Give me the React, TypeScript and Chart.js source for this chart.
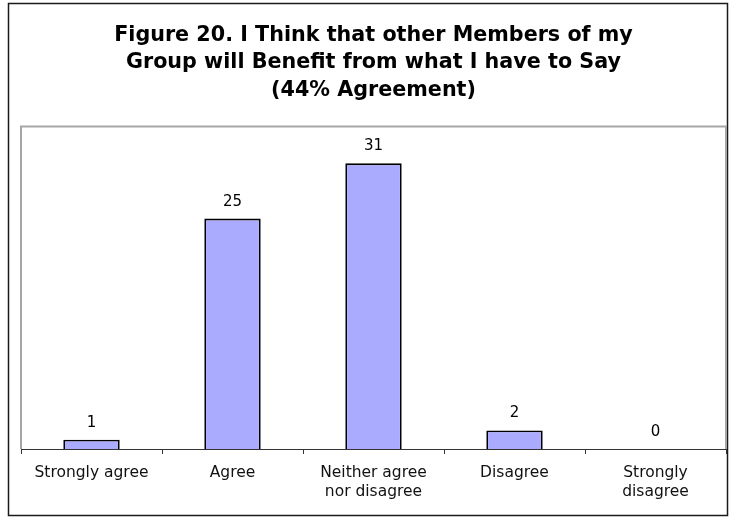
import React, { useEffect, useRef } from "react";
import { Chart, registerables } from "chart.js";

Chart.register(...registerables);

const categories: (string | string[])[] = [
  "Strongly agree",
  "Agree",
  ["Neither agree", "nor disagree"],
  "Disagree",
  ["Strongly", "disagree"],
];
const responses: number[] = [1, 25, 31, 2, 0];
const titleLines: string[] = [
  "Figure 20. I Think that other Members of my",
  "Group will Benefit from what I have to Say",
  "(44% Agreement)",
];

const FONT = "'DejaVu Sans', Verdana, sans-serif";

const framePlugin = {
  id: "frame",
  beforeDraw(chart: any) {
    const { ctx, width, height } = chart;
    ctx.save();
    ctx.fillStyle = "#ffffff";
    ctx.fillRect(0, 0, width, height);
    ctx.strokeStyle = "#1a1a1a";
    ctx.lineWidth = 1.5;
    ctx.strokeRect(8.5, 3.5, 719, 512);
    ctx.restore();
  },
  beforeDatasetsDraw(chart: any) {
    const { ctx, chartArea } = chart;
    ctx.save();
    ctx.strokeStyle = "#a6a6a6";
    ctx.lineWidth = 2;
    ctx.beginPath();
    ctx.moveTo(chartArea.left, chartArea.bottom);
    ctx.lineTo(chartArea.left, chartArea.top);
    ctx.lineTo(chartArea.right, chartArea.top);
    ctx.lineTo(chartArea.right, chartArea.bottom);
    ctx.stroke();
    ctx.restore();
  },
  afterDatasetsDraw(chart: any) {
    const { ctx } = chart;
    const meta = chart.getDatasetMeta(0);
    ctx.save();
    ctx.fillStyle = "#000";
    ctx.font = `15px ${FONT}`;
    ctx.textAlign = "center";
    ctx.textBaseline = "middle";
    meta.data.forEach((bar: any, i: number) => {
      ctx.fillText(String(chart.data.datasets[0].data[i]), bar.x, bar.y - 17);
    });
    ctx.restore();
  },
};

export default function App() {
  const ref = useRef<HTMLCanvasElement | null>(null);
  useEffect(() => {
    if (!ref.current) return;
    const chart = new Chart(ref.current, {
      type: "bar",
      data: {
        labels: categories as any,
        datasets: [
          {
            data: responses,
            backgroundColor: "#aaaaff",
            borderColor: "#000000",
            borderWidth: 1.8,
            barPercentage: 0.4,
            categoryPercentage: 1,
          },
        ],
      },
      options: {
        animation: false,
        responsive: false,
        devicePixelRatio: 1,
        layout: { padding: { left: 21, right: 3, top: 0, bottom: 0 } },
        plugins: {
          legend: { display: false },
          tooltip: { enabled: false },
          title: {
            display: true,
            text: titleLines,
            color: "#000",
            font: { family: FONT, size: 20.7, weight: "bold", lineHeight: 1.32 },
            padding: { top: 22, bottom: 22.5 },
          },
        },
        scales: {
          x: {
            grid: {
              display: true,
              drawOnChartArea: false,
              drawTicks: true,
              tickLength: 5,
              offset: true,
              color: "#333",
            },
            border: { display: true, color: "#333", width: 1 },
            ticks: {
              color: "#111",
              font: { family: FONT, size: 15.5, lineHeight: 1.22 },
              padding: 10,
              maxRotation: 0,
              autoSkip: false,
            },
            afterFit(scale: any) {
              scale.height = 69;
            },
          },
          y: {
            display: false,
            min: 0,
            max: 35,
          },
        },
      },
      plugins: [framePlugin],
    });
    return () => chart.destroy();
  }, []);
  return (
    <div style={{ position: "absolute", left: 0, top: 0, width: 729, height: 518 }}>
      <canvas ref={ref} width={729} height={518} style={{ width: 729, height: 518, display: "block" }} />
    </div>
  );
}
